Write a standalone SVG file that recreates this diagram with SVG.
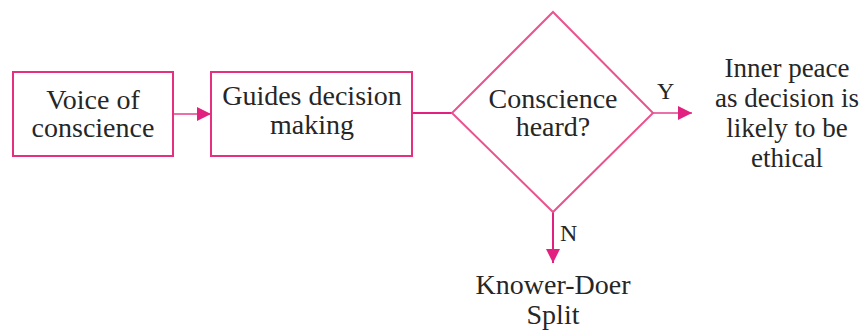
<svg xmlns="http://www.w3.org/2000/svg" width="864" height="331" viewBox="0 0 864 331">
  <defs>
    <style>
      .box { fill: #ffffff; stroke: #e4307f; stroke-width: 2; }
      .dia { fill: #ffffff; stroke: #e8548f; stroke-width: 2; }
      .lbl { font-family: 'Liberation Serif', serif; font-size: 28px; fill: #262626; text-anchor: middle; }
      .side { font-size: 27px; }
      .tag { font-family: 'Liberation Serif', serif; font-size: 24px; fill: #262626; }
      .conn { fill: none; stroke: #ec70a8; stroke-width: 2; }
      .conn-dark { fill: none; stroke: #e2207f; stroke-width: 2; }
    </style>
    <marker id="head" viewBox="0 0 10 10" refX="10" refY="5" markerWidth="14" markerHeight="14" markerUnits="userSpaceOnUse" orient="auto">
      <path d="M0,0 L10,5 L0,10 Z" fill="#e2207f"/>
    </marker>
  </defs>

  <rect width="864" height="331" fill="#ffffff"/>

  <!-- connectors -->
  <g id="connectors">
    <line class="conn" x1="173" y1="114" x2="211" y2="114" marker-end="url(#head)"/>
    <line class="conn-dark" x1="412" y1="113" x2="452" y2="113"/>
    <line class="conn" x1="653" y1="113" x2="692" y2="113" marker-end="url(#head)"/>
    <line class="conn-dark" x1="553" y1="212" x2="553" y2="263" marker-end="url(#head)"/>
    <text class="tag" x="657" y="99">Y</text>
    <text class="tag" x="560" y="241">N</text>
  </g>

  <g id="voice">
    <rect class="box" x="13" y="72" width="160" height="84"/>
    <text class="lbl" x="93" y="109">Voice of</text>
    <text class="lbl" x="93" y="137">conscience</text>
  </g>

  <g id="guides">
    <rect class="box" x="211" y="72" width="201" height="84"/>
    <text class="lbl" x="312" y="105">Guides decision</text>
    <text class="lbl" x="312" y="134">making</text>
  </g>

  <g id="heard">
    <polygon class="dia" points="553,12 653,113 553,212 452,113"/>
    <text class="lbl" x="553" y="108">Conscience</text>
    <text class="lbl" x="553" y="136">heard?</text>
  </g>

  <g id="peace">
    <text class="lbl side" x="787" y="77">Inner peace</text>
    <text class="lbl side" x="787" y="107">as decision is</text>
    <text class="lbl side" x="787" y="137">likely to be</text>
    <text class="lbl side" x="787" y="167">ethical</text>
  </g>

  <g id="split">
    <text class="lbl" x="553" y="294">Knower-Doer</text>
    <text class="lbl" x="553" y="324">Split</text>
  </g>
</svg>
